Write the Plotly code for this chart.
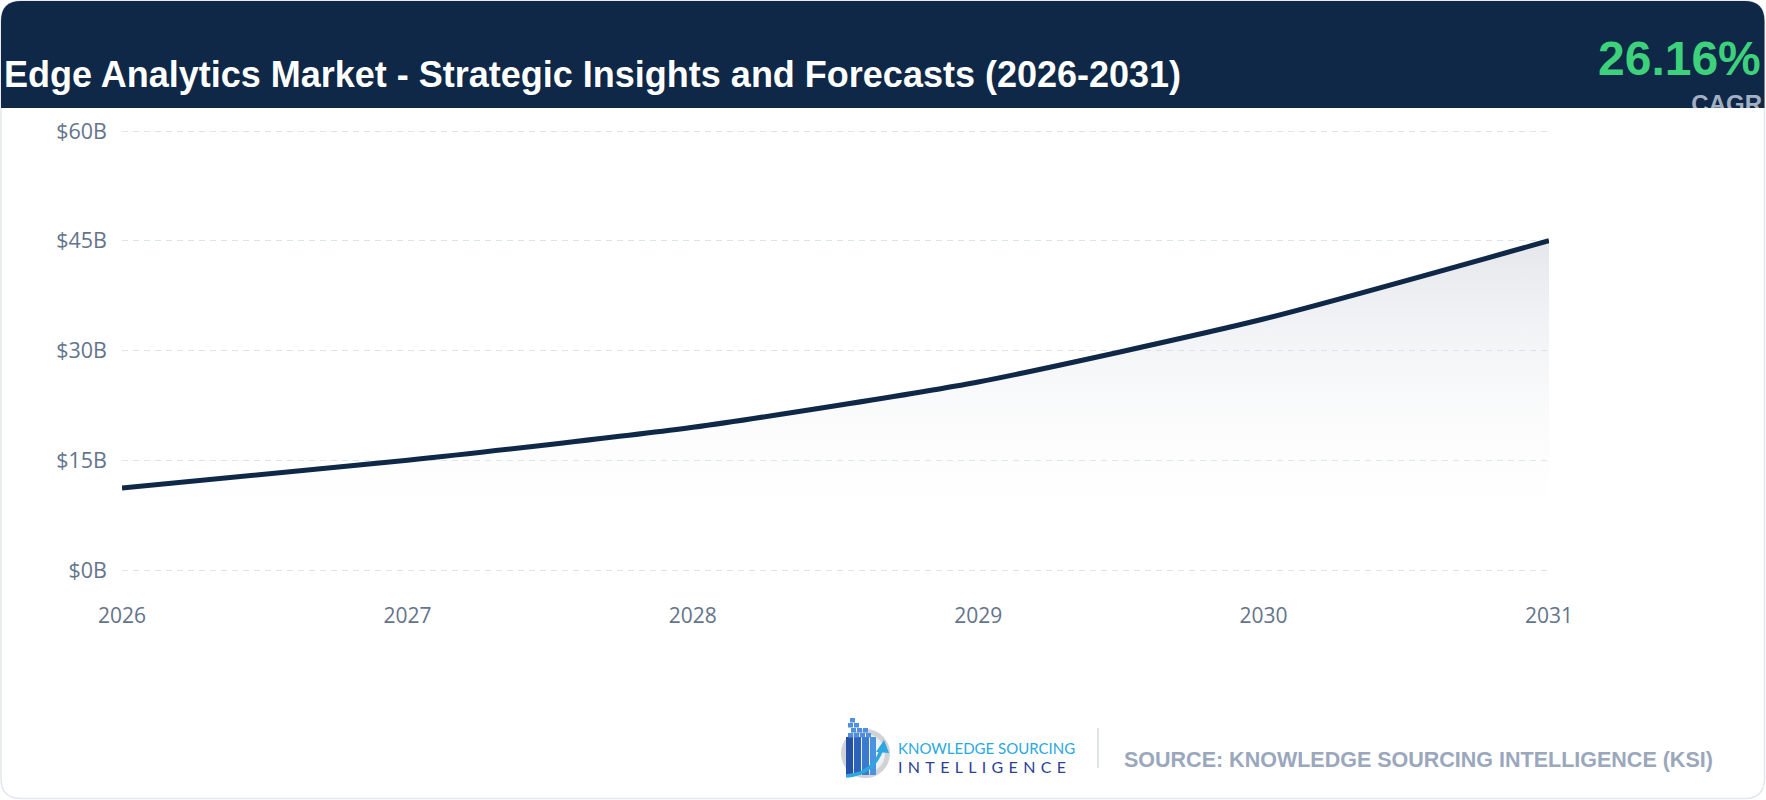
import plotly.graph_objects as go

# ---------------- data ----------------
years = [2026, 2027, 2028, 2029, 2030, 2031]
market_size_b = [11.2, 15.0, 19.5, 25.7, 34.3, 45.0]
y_tick_vals = [0, 15, 30, 45, 60]
y_tick_text = ["$0B", "$15B", "$30B", "$45B", "$60B"]
title_text = "Edge Analytics Market - Strategic Insights and Forecasts (2026-2031)"
cagr_text = "26.16%"
cagr_label = "CAGR"
source_text = "SOURCE: KNOWLEDGE SOURCING INTELLIGENCE (KSI)"
logo_line1 = "KNOWLEDGE SOURCING"
logo_line2 = "\u2004".join("INTELLIGENCE")

# ---------------- layout helpers ----------------
W, H = 1766, 800
NAVY = "#0f2847"
PLOT_TOP, PLOT_BOTTOM = 131, 570   # pixel rows of 60 and 0
Y_PAD = 0.5                        # small range pad so edge gridlines are drawn
px_per_unit = (PLOT_BOTTOM - PLOT_TOP) / 60.0


def X(px):
    return px / W


def Y(py):
    return 1 - py / H


def rounded_path(x0, y0, x1, y1, r, top_only=False):
    rx, ry = r / W, r / H
    ax0, ax1 = X(x0), X(x1)
    ay0, ay1 = Y(y0), Y(y1)  # ay0 top (larger), ay1 bottom
    p = f"M {ax0},{ay1 + (0 if top_only else ry)} "
    p += f"L {ax0},{ay0 - ry} Q {ax0},{ay0} {ax0 + rx},{ay0} "
    p += f"L {ax1 - rx},{ay0} Q {ax1},{ay0} {ax1},{ay0 - ry} "
    if top_only:
        p += f"L {ax1},{ay1} Z"
    else:
        p += f"L {ax1},{ay1 + ry} Q {ax1},{ay1} {ax1 - rx},{ay1} "
        p += f"L {ax0 + rx},{ay1} Q {ax0},{ay1} {ax0},{ay1 + ry} Z"
    return p


fig = go.Figure()

fig.add_trace(go.Scatter(
    x=years, y=market_size_b, mode="lines",
    line=dict(color=NAVY, width=5, shape="spline", smoothing=0.6),
    fill="tozeroy",
    fillgradient=dict(type="vertical", start=3.5, stop=46,
                      colorscale=[[0, "rgba(255,255,255,0)"], [1, "rgba(200,204,214,0.5)"]]),
    hoverinfo="skip", showlegend=False,
    xaxis="x", yaxis="y",
))

# CAGR label clipped by the header bottom (text trace on a helper subplot)
fig.add_trace(go.Scatter(
    x=[1762], y=[H - 106], mode="text", text=[cagr_label],
    textposition="middle left",
    textfont=dict(family="Liberation Sans, Arial", size=24, color="#a3afc2", weight="bold"),
    cliponaxis=True, hoverinfo="skip", showlegend=False,
    xaxis="x2", yaxis="y2",
))

shapes = []
# card border
shapes.append(dict(type="path", xref="paper", yref="paper", layer="below",
                   path=rounded_path(1, 1, 1764.5, 798.5, 20),
                   line=dict(color="#e2e8f0", width=1.5), fillcolor="white"))
# header
shapes.append(dict(type="path", xref="paper", yref="paper", layer="below",
                   path=rounded_path(1, 1, 1764.5, 108, 20, top_only=True),
                   line=dict(width=0), fillcolor=NAVY))
# separator
shapes.append(dict(type="line", xref="paper", yref="paper",
                   x0=X(1098), x1=X(1098), y0=Y(728), y1=Y(768),
                   line=dict(color="#d5dbe3", width=1.5)))
# logo: grey disc
shapes.append(dict(type="circle", xref="paper", yref="paper",
                   x0=X(841), x1=X(890), y0=Y(729), y1=Y(778),
                   fillcolor="#cfd3d8", line=dict(width=0)))
shapes.append(dict(type="circle", xref="paper", yref="paper",
                   x0=X(846), x1=X(885), y0=Y(734), y1=Y(773),
                   fillcolor="#eef0f3", line=dict(width=0)))
# logo: bars
for bx0, bx1, col in [(846, 853, "#2451a6"), (854, 861, "#2d63bd"), (862, 869, "#3a7bd0"), (870, 876, "#4b93de")]:
    shapes.append(dict(type="rect", xref="paper", yref="paper",
                       x0=X(bx0), x1=X(bx1), y0=Y(737), y1=Y(775),
                       fillcolor=col, line=dict(width=0)))
# logo: stacked squares
sq_rows = [(733, [848, 854, 860, 866]), (728, [851, 857, 863]), (723, [848, 854]), (718, [850])]
for sy, xs in sq_rows:
    for sx in xs:
        shapes.append(dict(type="rect", xref="paper", yref="paper",
                           x0=X(sx), x1=X(sx + 5), y0=Y(sy), y1=Y(sy + 4.5),
                           fillcolor="#4f8fdc", line=dict(width=0)))
# logo: arrow
shapes.append(dict(type="path", xref="paper", yref="paper",
                   path=f"M {X(846)},{Y(776)} Q {X(874)},{Y(774)} {X(882)},{Y(748)}",
                   line=dict(color="#2ea7e0", width=3.5)))
shapes.append(dict(type="path", xref="paper", yref="paper",
                   path=f"M {X(876)},{Y(752)} L {X(884)},{Y(740)} L {X(889)},{Y(753)} Z",
                   fillcolor="#2ea7e0", line=dict(width=0)))

annotations = [
    dict(text=title_text, x=X(2), y=Y(74), xref="paper", yref="paper",
         xanchor="left", yanchor="middle", showarrow=False,
         font=dict(family="Liberation Sans, Arial", size=36, color="white", weight="bold")),
    dict(text=cagr_text, x=X(1763), y=Y(59), xref="paper", yref="paper",
         xanchor="right", yanchor="middle", showarrow=False,
         font=dict(family="Liberation Sans, Arial", size=48, color="#3dd17b", weight="bold")),
    dict(text=logo_line1, x=X(896), y=Y(748), xref="paper", yref="paper",
         xanchor="left", yanchor="middle", showarrow=False,
         font=dict(family="Lato", size=15, color="#2aa8e0")),
    dict(text=logo_line2, x=X(896), y=Y(766), xref="paper", yref="paper",
         xanchor="left", yanchor="middle", showarrow=False,
         font=dict(family="Lato", size=16, color="#2c3f95")),
    dict(text=source_text, x=X(1122), y=Y(760), xref="paper", yref="paper",
         xanchor="left", yanchor="middle", showarrow=False,
         font=dict(family="Liberation Sans, Arial", size=21.5, color="#9aa7bc", weight="bold")),
]

y_dom = [Y(PLOT_BOTTOM + Y_PAD * px_per_unit), Y(PLOT_TOP - Y_PAD * px_per_unit)]

fig.update_layout(
    width=W, height=H,
    margin=dict(l=0, r=0, t=0, b=0, pad=0, autoexpand=False),
    paper_bgcolor="white", plot_bgcolor="rgba(0,0,0,0)",
    showlegend=False,
    shapes=shapes, annotations=annotations,
    xaxis=dict(domain=[X(122), X(1549)], range=[2026, 2031],
               tickvals=years, ticktext=[str(y) for y in years],
               showgrid=False, zeroline=False, showline=False, automargin=False,
               ticks="", ticklabelstandoff=27,
               tickfont=dict(family="Open Sans", size=21, color="#64748b"),
               fixedrange=True, anchor="y"),
    yaxis=dict(domain=y_dom, range=[-Y_PAD, 60 + Y_PAD],
               tickvals=y_tick_vals, ticktext=y_tick_text,
               showgrid=True, gridcolor="#dde3eb", gridwidth=1.3, griddash="6px,5px",
               zeroline=False, showline=False, ticks="", ticklabelstandoff=14, automargin=False,
               tickfont=dict(family="Open Sans", size=21.5, color="#64748b"),
               fixedrange=True, anchor="x"),
    xaxis2=dict(domain=[0, 1], range=[0, W], visible=False, anchor="y2", fixedrange=True, automargin=False),
    yaxis2=dict(domain=[Y(108), 1], range=[H - 108, H], visible=False, anchor="x2", fixedrange=True, automargin=False),
)

fig.write_html(
    "out.html",
    config={"displayModeBar": False},
    post_script="document.body.style.margin='0px';document.body.style.overflow='hidden';",
)
